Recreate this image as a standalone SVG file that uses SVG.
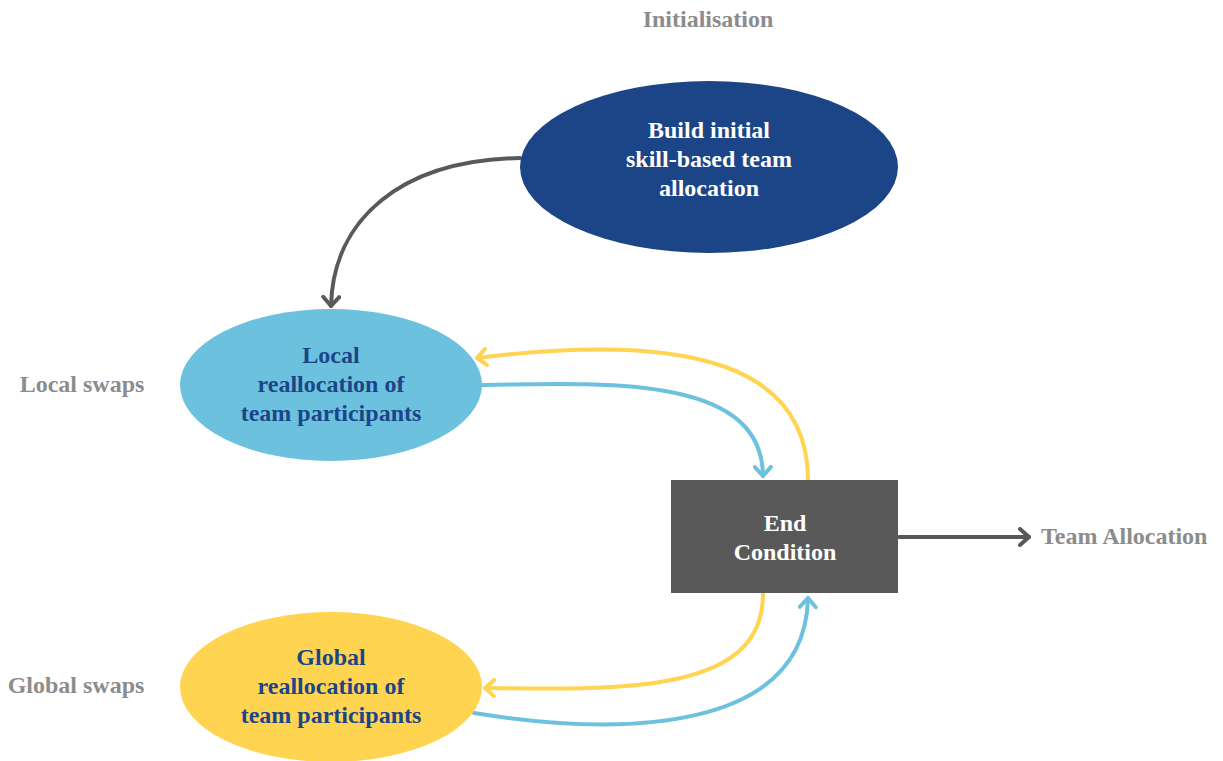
<svg xmlns="http://www.w3.org/2000/svg" width="1223" height="761" viewBox="0 0 1223 761">
<defs>
<style>
.t{font-family:"Liberation Serif","Times New Roman",serif;font-weight:bold;font-size:24px;text-anchor:middle}
.w{fill:#ffffff}
.d{fill:#1c4587}
.lab{font-family:"Liberation Serif","Times New Roman",serif;font-weight:bold;font-size:24px;fill:#8c8c8c}
.c{fill:none;stroke-width:4;stroke-linecap:round}
</style>
<marker id="mg" viewBox="-12 -10 14 20" markerWidth="14" markerHeight="20" refX="0" refY="0" orient="auto" markerUnits="userSpaceOnUse"><path d="M-9,-8 L0,0 L-9,8" fill="none" stroke="#595959" stroke-width="4" stroke-linecap="round" stroke-linejoin="round"/></marker>
<marker id="mb" viewBox="-12 -10 14 20" markerWidth="14" markerHeight="20" refX="0" refY="0" orient="auto" markerUnits="userSpaceOnUse"><path d="M-9,-8 L0,0 L-9,8" fill="none" stroke="#6cc2de" stroke-width="4" stroke-linecap="round" stroke-linejoin="round"/></marker>
<marker id="my" viewBox="-12 -10 14 20" markerWidth="14" markerHeight="20" refX="0" refY="0" orient="auto" markerUnits="userSpaceOnUse"><path d="M-9,-8 L0,0 L-9,8" fill="none" stroke="#ffd451" stroke-width="4" stroke-linecap="round" stroke-linejoin="round"/></marker>
</defs>
<rect width="1223" height="761" fill="#ffffff"/>
<g id="labels">
<text class="lab" x="708" y="27" text-anchor="middle">Initialisation</text>
<text class="lab" x="82" y="392" text-anchor="middle">Local swaps</text>
<text class="lab" x="76" y="693" text-anchor="middle">Global swaps</text>
<text class="lab" x="1041" y="544">Team Allocation</text>
</g>
<g id="connectors">
<path class="c" stroke="#595959" d="M520,158 C400,160 333,220 331,306" marker-end="url(#mg)"/>
<path class="c" stroke="#6cc2de" d="M482,385 C620,382 762,378 763,476" marker-end="url(#mb)"/>
<path class="c" stroke="#ffd451" d="M808,480 C808,370 700,330 477,358" marker-end="url(#my)"/>
<path class="c" stroke="#ffd451" d="M763,594 C763,692 630,690 485,688" marker-end="url(#my)"/>
<path class="c" stroke="#6cc2de" d="M474,713 C630,738 805,730 808,598" marker-end="url(#mb)"/>
<path class="c" stroke="#595959" d="M899,537 L1029,537" marker-end="url(#mg)"/>
</g>
<g id="build">
<ellipse cx="709" cy="167" rx="189" ry="86" fill="#1c4587"/>
<text class="t w" x="709" y="138">Build initial</text>
<text class="t w" x="709" y="167">skill-based team</text>
<text class="t w" x="709" y="196">allocation</text>
</g>
<g id="local">
<ellipse cx="331" cy="385" rx="151" ry="76" fill="#6cc2de"/>
<text class="t d" x="331" y="363">Local</text>
<text class="t d" x="331" y="392">reallocation of</text>
<text class="t d" x="331" y="421">team participants</text>
</g>
<g id="global">
<ellipse cx="331" cy="687" rx="151" ry="75" fill="#ffd451"/>
<text class="t d" x="331" y="665">Global</text>
<text class="t d" x="331" y="694">reallocation of</text>
<text class="t d" x="331" y="723">team participants</text>
</g>
<g id="end">
<rect x="671" y="480" width="227" height="113" fill="#595959"/>
<text class="t w" x="785" y="531">End</text>
<text class="t w" x="785" y="560">Condition</text>
</g>
</svg>
